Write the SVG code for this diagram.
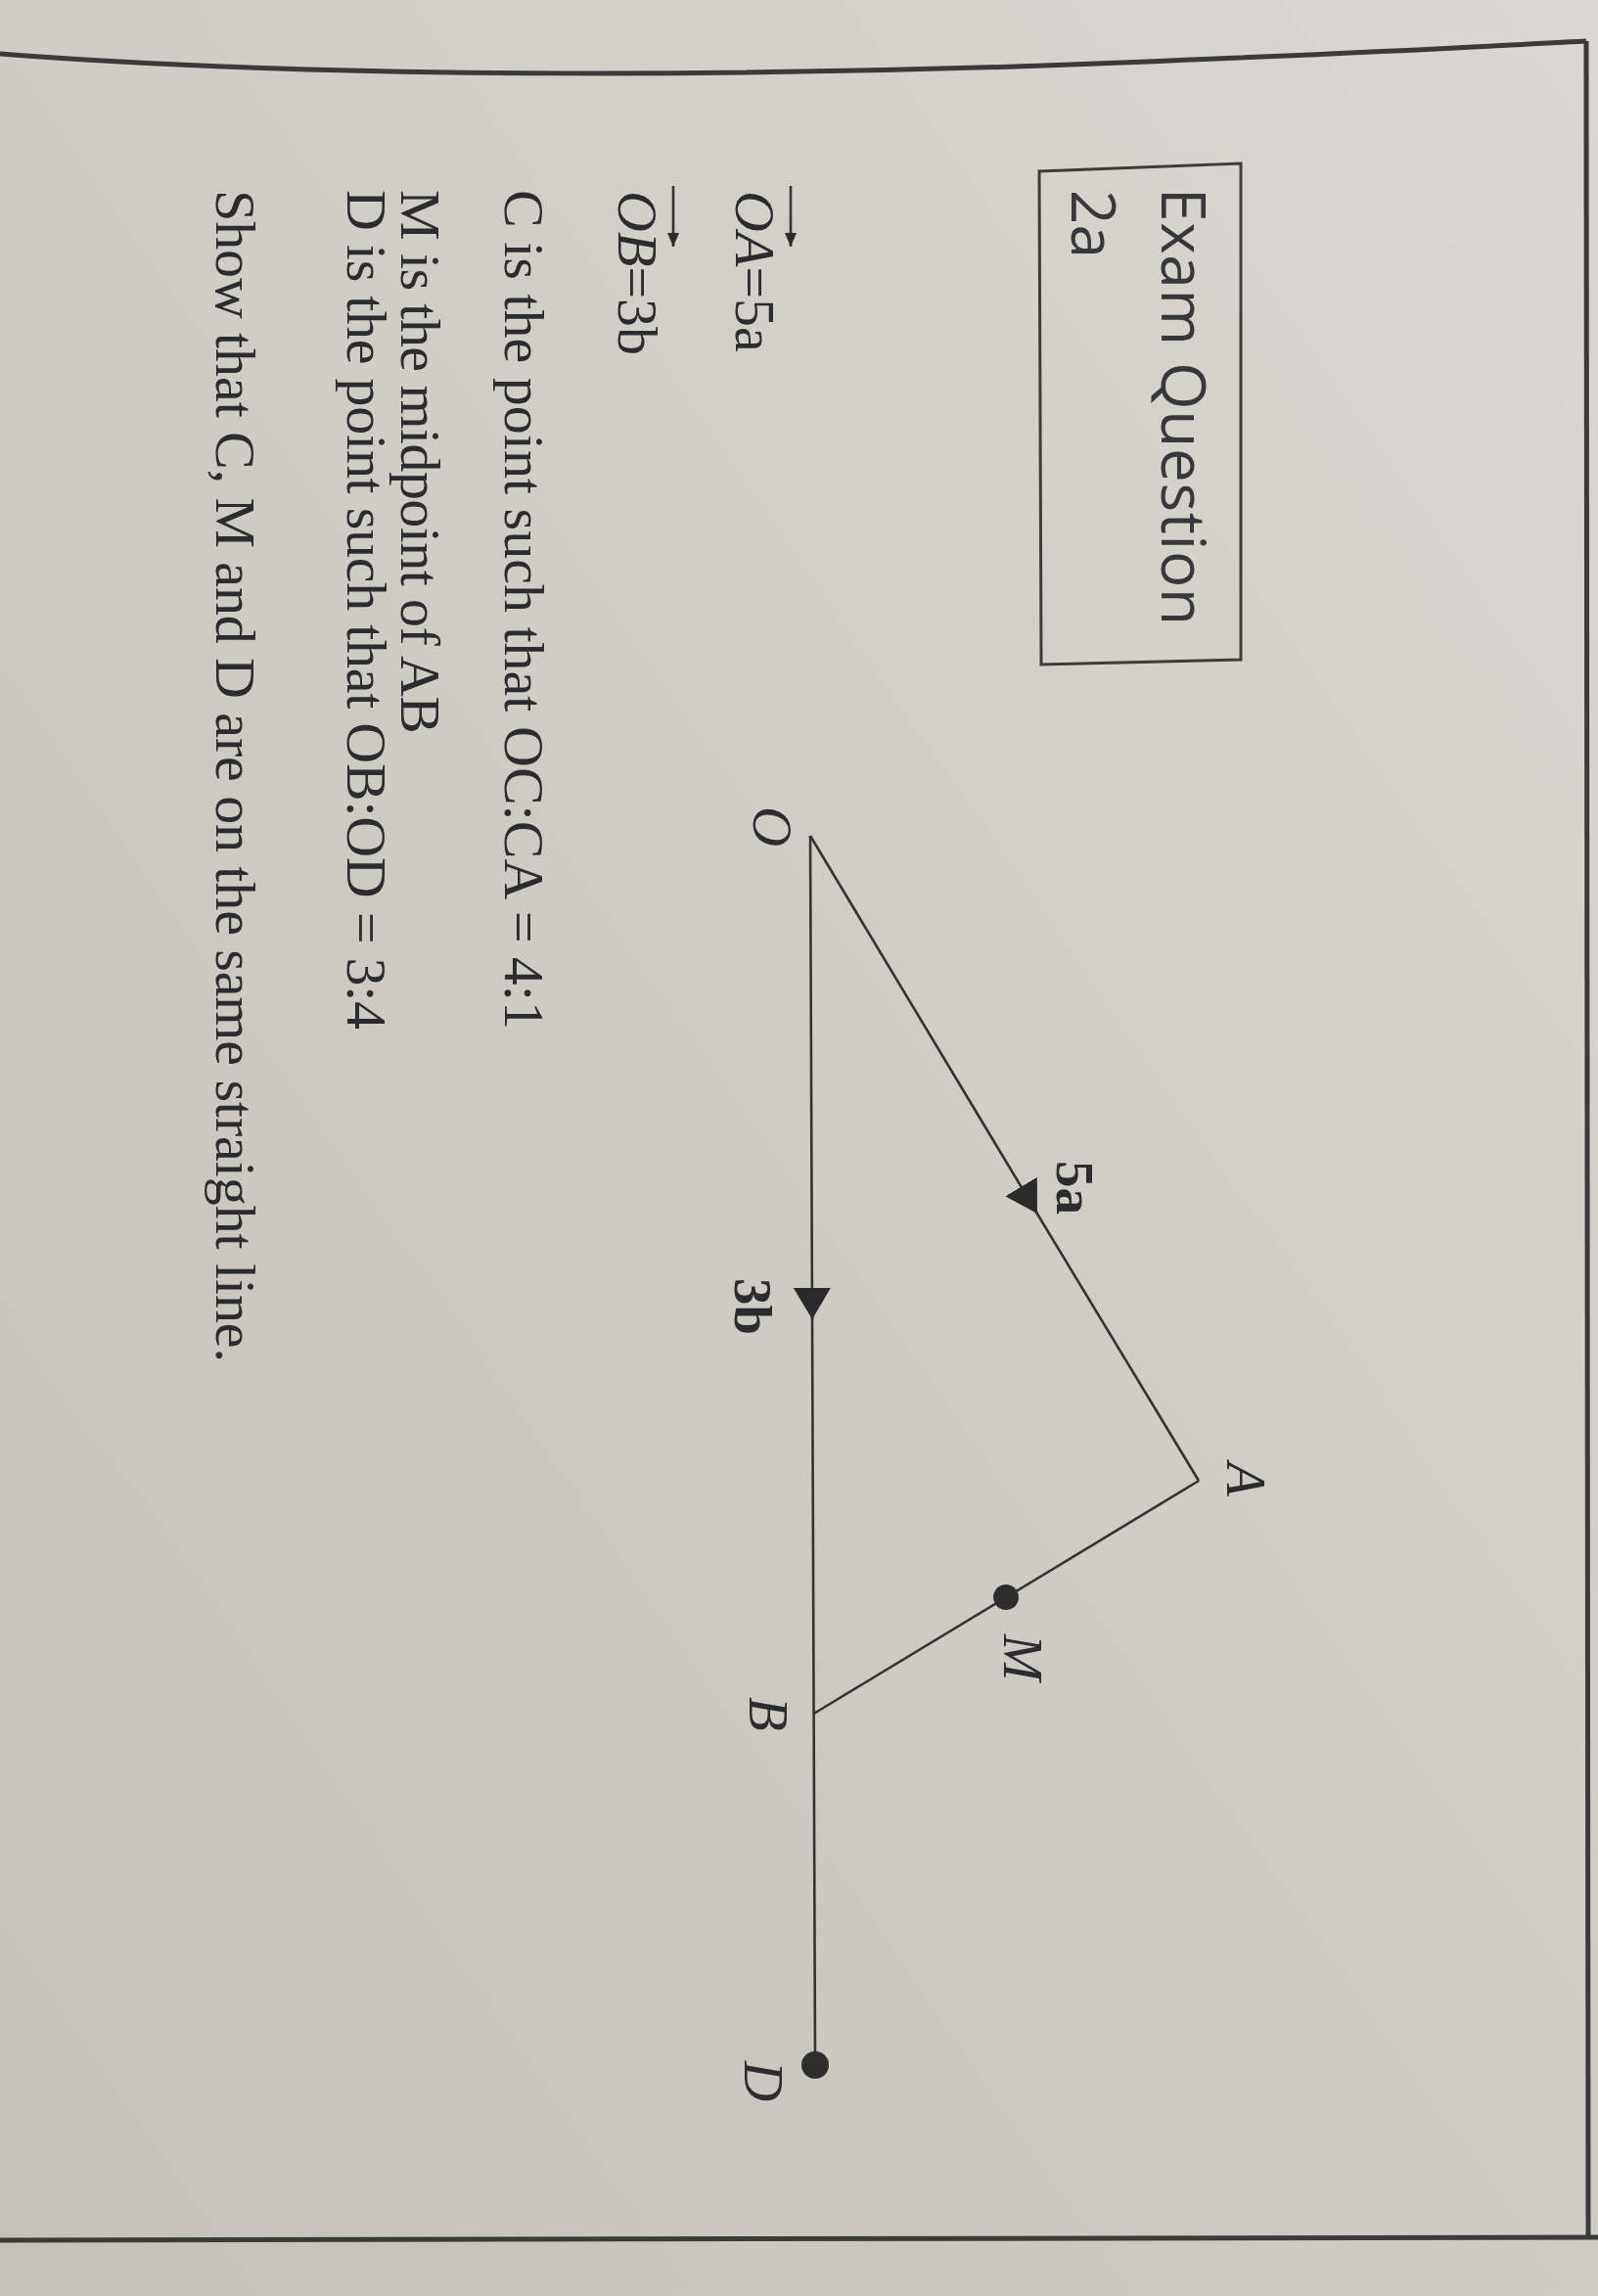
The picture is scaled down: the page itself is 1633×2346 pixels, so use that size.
<svg xmlns="http://www.w3.org/2000/svg" width="1633" height="2346" viewBox="0 0 1633 2346">
<defs>
<linearGradient id="bg" x1="1" y1="0" x2="0" y2="1">
<stop offset="0" stop-color="#dad7d2"/>
<stop offset="0.5" stop-color="#cfccc5"/>
<stop offset="1" stop-color="#c5c1b9"/>
</linearGradient>
<marker id="tri" viewBox="0 0 32 38" refX="32" refY="19" markerWidth="32" markerHeight="38" markerUnits="userSpaceOnUse" orient="auto">
<path d="M0,0 L32,19 L0,38 Z" fill="#2a2a2a"/>
</marker>
<marker id="vec" viewBox="0 0 14 12" refX="14" refY="6" markerWidth="14" markerHeight="12" markerUnits="userSpaceOnUse" orient="auto">
<path d="M0,0 L14,6 L0,12 Z" fill="#2a2a2a"/>
</marker>
<style>
.serif{font-family:"Liberation Serif","Times New Roman",serif;font-size:58px;fill:#2b2c30}
.sans{font-family:"Open Sans","Noto Sans",sans-serif;font-size:62px;fill:#37383b}
.lbl{font-family:"Liberation Serif","Times New Roman",serif;font-size:57px;font-style:italic;fill:#2b2c30}
.num{font-family:"Liberation Serif","Times New Roman",serif;font-size:55px;font-weight:bold;fill:#2b2c30}
.edge{stroke:#333;stroke-width:2.6;fill:none}
.frame{stroke:#3a3a3a;stroke-width:5;fill:none}
.dot{fill:#2e2e2e}
</style>
</defs>
<rect x="0" y="0" width="1633" height="2346" fill="url(#bg)"/>
<g id="page-frame">
<path class="frame" d="M0,55 C350,82 800,78 1146,64 S1500,48 1621,42"/>
<path class="frame" d="M1621,42 L1623,2287"/>
<path class="frame" d="M0,2289 L1633,2286"/>
</g>
<g id="title-box">
<path d="M1062,175 L1268,167 L1268,674 L1064,679 Z" fill="none" stroke="#3c3c3c" stroke-width="3"/>
<text class="sans" transform="translate(1187,192) rotate(90)" textLength="447">Exam Question</text>
<text class="sans" transform="translate(1095,194) rotate(90)">2a</text>
</g>
<g id="given">
<text class="serif" transform="translate(752,195) rotate(90)"><tspan font-style="italic">OA</tspan>=5a</text>
<path class="edge" d="M808,190 L808,252" stroke-width="2.2" marker-end="url(#vec)"/>
<text class="serif" transform="translate(632,195) rotate(90)"><tspan font-style="italic">OB</tspan>=3b</text>
<path class="edge" d="M688,190 L688,252" stroke-width="2.2" marker-end="url(#vec)"/>
</g>
<g id="statements">
<text class="serif" transform="translate(516,194) rotate(90)" textLength="858">C is the point such that OC:CA = 4:1</text>
<text class="serif" transform="translate(410,194) rotate(90)" textLength="556">M is the midpoint of AB</text>
<text class="serif" transform="translate(355,194) rotate(90)" textLength="858">D is the point such that OB:OD = 3:4</text>
<text class="serif" transform="translate(221,194) rotate(90)" textLength="1198">Show that C, M and D are on the same straight line.</text>
</g>
<g id="connectors">
<path class="edge" d="M828,854 L1060,1240" marker-end="url(#tri)"/>
<path class="edge" d="M1058,1237 L1225,1513"/>
<path class="edge" d="M1225,1513 L831.5,1751"/>
<path class="edge" d="M828,854 L830,1348" marker-end="url(#tri)"/>
<path class="edge" d="M830,1345 L833,2110"/>
</g>
<g id="node-O"><text class="lbl" transform="translate(770,824) rotate(90)">O</text></g>
<g id="node-A"><text class="lbl" transform="translate(1254,1494) rotate(90)">A</text></g>
<g id="node-M"><circle class="dot" cx="1028" cy="1632" r="13"/><text class="lbl" transform="translate(1026,1670) rotate(90)">M</text></g>
<g id="node-B"><text class="lbl" transform="translate(766,1734) rotate(90)">B</text></g>
<g id="node-D"><circle class="dot" cx="833" cy="2110" r="14"/><text class="lbl" transform="translate(761,2106) rotate(90)">D</text></g>
<g id="label-5a"><text class="num" transform="translate(1080,1186) rotate(90)">5a</text></g>
<g id="label-3b"><text class="num" transform="translate(751,1306) rotate(90)">3b</text></g>
</svg>
